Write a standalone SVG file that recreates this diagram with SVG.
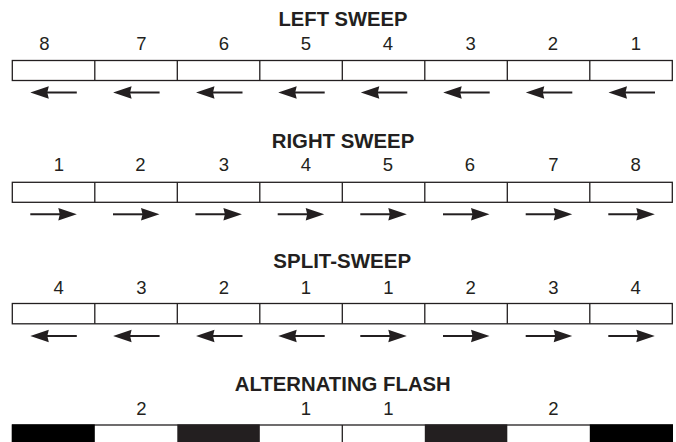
<svg xmlns="http://www.w3.org/2000/svg" xmlns:xlink="http://www.w3.org/1999/xlink" width="676" height="442" viewBox="0 0 676 442">
<style>
.t{font-family:"Liberation Sans",Arial,sans-serif;font-weight:bold;font-size:20px;fill:#231f20;text-anchor:middle}
.n{font-family:"Liberation Sans",Arial,sans-serif;font-size:18.5px;fill:#231f20;text-anchor:middle}
.c{fill:#fff;stroke:#231f20;stroke-width:1.3}
.k{fill:#000}
.d{fill:#231f20}
.ln{stroke:#231f20;stroke-width:1.3;fill:none}
</style>
<defs>
<g id="aL"><line x1="-9" y1="0" x2="23" y2="0" stroke="#231f20" stroke-width="2"/><polygon points="-23.5,0 -5,-6.3 -6.5,0 -5,6.3" fill="#231f20"/></g>
<g id="aR"><line x1="-23" y1="0" x2="9" y2="0" stroke="#231f20" stroke-width="2"/><polygon points="23.5,0 5,-6.3 6.5,0 5,6.3" fill="#231f20"/></g>
</defs>
<rect width="676" height="442" fill="#fff"/>

<g id="row-left-sweep">
<text class="t" x="343" y="25.5" textLength="129" lengthAdjust="spacingAndGlyphs">LEFT SWEEP</text>
<text class="n" x="44.5" y="50">8</text>
<text class="n" x="141.3" y="50">7</text>
<text class="n" x="224" y="50">6</text>
<text class="n" x="306" y="50">5</text>
<text class="n" x="388" y="50">4</text>
<text class="n" x="470.7" y="50">3</text>
<text class="n" x="553" y="50">2</text>
<text class="n" x="636" y="50">1</text>
<rect class="c" x="12.3" y="60.5" width="660" height="20"/>
<path class="ln" d="M94.8 60.5V80.5M177.3 60.5V80.5M259.8 60.5V80.5M342.3 60.5V80.5M424.8 60.5V80.5M507.3 60.5V80.5M589.8 60.5V80.5"/>
</g>

<g id="row-right-sweep">
<text class="t" x="343" y="147.5" textLength="142.6" lengthAdjust="spacingAndGlyphs">RIGHT SWEEP</text>
<text class="n" x="59" y="171">1</text>
<text class="n" x="140.3" y="171">2</text>
<text class="n" x="223.8" y="171">3</text>
<text class="n" x="306" y="171">4</text>
<text class="n" x="388" y="171">5</text>
<text class="n" x="469.8" y="171">6</text>
<text class="n" x="553.5" y="171">7</text>
<text class="n" x="635.7" y="171">8</text>
<rect class="c" x="12.3" y="182.3" width="660" height="20"/>
<path class="ln" d="M94.8 182.3V202.3M177.3 182.3V202.3M259.8 182.3V202.3M342.3 182.3V202.3M424.8 182.3V202.3M507.3 182.3V202.3M589.8 182.3V202.3"/>
</g>

<g id="row-split-sweep">
<text class="t" x="342.2" y="268.3" textLength="137.7" lengthAdjust="spacingAndGlyphs">SPLIT-SWEEP</text>
<text class="n" x="58.7" y="294">4</text>
<text class="n" x="141.3" y="294">3</text>
<text class="n" x="223.8" y="294">2</text>
<text class="n" x="306" y="294">1</text>
<text class="n" x="388.3" y="294">1</text>
<text class="n" x="470.7" y="294">2</text>
<text class="n" x="553.5" y="294">3</text>
<text class="n" x="635.7" y="294">4</text>
<rect class="c" x="12.3" y="303.5" width="660" height="20.3"/>
<path class="ln" d="M94.8 303.5V323.8M177.3 303.5V323.8M259.8 303.5V323.8M342.3 303.5V323.8M424.8 303.5V323.8M507.3 303.5V323.8M589.8 303.5V323.8"/>
</g>

<g id="row-alternating-flash">
<text class="t" x="342.8" y="391" textLength="216" lengthAdjust="spacingAndGlyphs">ALTERNATING FLASH</text>
<text class="n" x="141.3" y="414.5">2</text>
<text class="n" x="306" y="414.5">1</text>
<text class="n" x="388.3" y="414.5">1</text>
<text class="n" x="553.5" y="414.5">2</text>
<rect class="c" x="12.3" y="425" width="660" height="25"/>
<rect class="k" x="12" y="424.4" width="82.8" height="20"/>
<rect class="d" x="177.3" y="424.4" width="82.5" height="20"/>
<rect class="d" x="424.8" y="424.4" width="82.5" height="20"/>
<rect class="k" x="589.8" y="424.4" width="83.2" height="20"/>
<path class="ln" d="M342.3 425V442"/>
</g>

<g id="arrows">
<use xlink:href="#aL" x="53.8" y="92.5"/>
<use xlink:href="#aL" x="136.6" y="92.5"/>
<use xlink:href="#aL" x="219.5" y="92.5"/>
<use xlink:href="#aL" x="301.7" y="92.5"/>
<use xlink:href="#aL" x="384.3" y="92.5"/>
<use xlink:href="#aL" x="466.7" y="92.5"/>
<use xlink:href="#aL" x="549.3" y="92.5"/>
<use xlink:href="#aL" x="632" y="92.5"/>
<use xlink:href="#aR" x="53.3" y="214.3"/>
<use xlink:href="#aR" x="136" y="214.3"/>
<use xlink:href="#aR" x="218.4" y="214.3"/>
<use xlink:href="#aR" x="300.7" y="214.3"/>
<use xlink:href="#aR" x="383.3" y="214.3"/>
<use xlink:href="#aR" x="466" y="214.3"/>
<use xlink:href="#aR" x="548.7" y="214.3"/>
<use xlink:href="#aR" x="631.3" y="214.3"/>
<use xlink:href="#aL" x="53.8" y="336"/>
<use xlink:href="#aL" x="136.6" y="336"/>
<use xlink:href="#aL" x="219.5" y="336"/>
<use xlink:href="#aL" x="301.7" y="336"/>
<use xlink:href="#aR" x="383.3" y="336"/>
<use xlink:href="#aR" x="466" y="336"/>
<use xlink:href="#aR" x="548.7" y="336"/>
<use xlink:href="#aR" x="631.3" y="336"/>
</g>
</svg>
